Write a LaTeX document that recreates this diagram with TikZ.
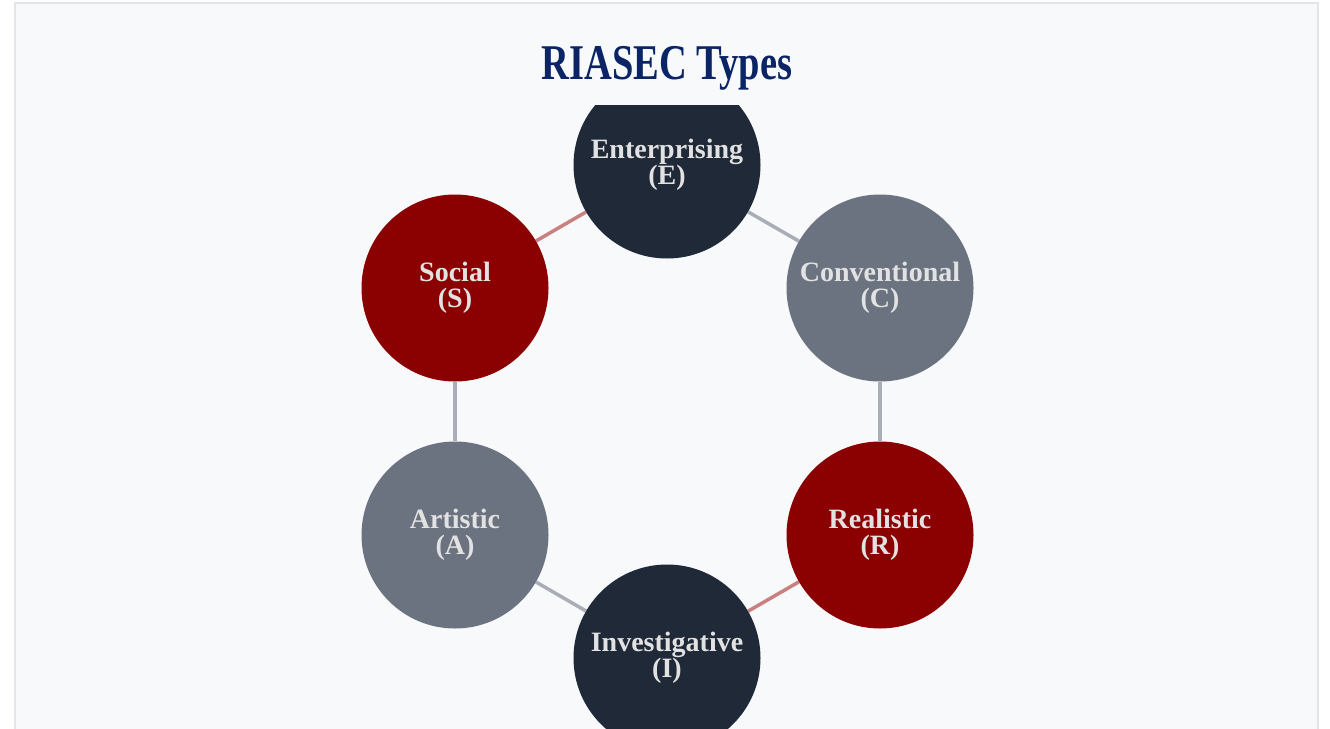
\documentclass[tikz,border=0pt]{standalone}
\usepackage{fontspec}
\setmainfont{Liberation Serif}
\usetikzlibrary{backgrounds}

\definecolor{panel}{HTML}{F8F9FB}
\definecolor{framegray}{HTML}{E3E5EA}
\definecolor{titlenavy}{HTML}{0B2466}
\definecolor{navy}{HTML}{1F2937}
\definecolor{slate}{HTML}{6B7280}
\definecolor{crimson}{HTML}{8B0000}
\definecolor{labelgray}{HTML}{E2E2E2}
\definecolor{linkgray}{HTML}{A9AEB6}
\definecolor{linkred}{HTML}{C98080}

\begin{document}
\begin{tikzpicture}[x=1pt,y=-1pt,
                type/.style={shape=circle,minimum size=187pt,inner sep=0pt,align=center,
                        text=labelgray,font=\bfseries\fontsize{28}{26}\selectfont},
                link/.style={line width=3.5pt}]
                \useasboundingbox (0,0) rectangle (1330,728);
                \node[font=\bfseries\fontsize{50}{50}\selectfont,text=titlenavy](title)at(667, 68){\scalebox{0.77}[1]{RIASEC Types}};

                \begin{scope}
                \clip (15, 105) rectangle (1318, 740);
                \node[type,fill=navy](E)at(667, 165){Enterprising\\(E)};
                \node[type,fill=slate](C)at(880, 288){Conventional\\(C)};
                \node[type,fill=crimson](R)at(880, 535){Realistic\\(R)};
                \node[type,fill=navy](I)at(667, 658){Investigative\\(I)};
                \node[type,fill=slate](A)at(455, 535){Artistic\\(A)};
                \node[type,fill=crimson](S)at(455, 288){Social\\(S)};
                \end{scope}

                \begin{scope}[on background layer]
                \fill[white] (0, 0) rectangle (1330, 728);
                \draw[framegray,fill=panel,line width=1.5pt] (15, 3) rectangle (1318, 740);
                \path[link,draw=linkgray] (E) edge (C)
                (C) edge (R)
                (I) edge (A)
                (A) edge (S);
                \path[link,draw=linkred] (R) edge (I)
                (S) edge (E);
                \end{scope}
            \end{tikzpicture}
\end{document}
